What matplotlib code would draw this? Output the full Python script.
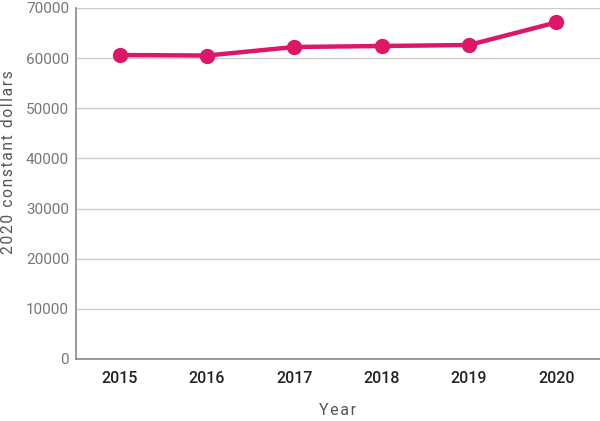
import matplotlib
matplotlib.use("Agg")
import matplotlib.pyplot as plt

years = ["2015", "2016", "2017", "2018", "2019", "2020"]
values = [60600, 60500, 62200, 62400, 62600, 67100]
yticks = [0, 10000, 20000, 30000, 40000, 50000, 60000, 70000]

plt.rcParams['font.family'] = ['Roboto', 'DejaVu Sans']

def spaced(s):
    # hair spaces between letters to mimic letter-spacing
    return '\u200a'.join(s)

fig = plt.figure(figsize=(6, 4.21), dpi=100)
ax = fig.add_axes([0.1267, 0.1473, 0.8733, 0.834])

x = list(range(len(years)))
ax.plot(x, values, color='#dc1768', linewidth=3.2, marker='o',
        markersize=10, solid_capstyle='round', zorder=3)

ax.set_xlim(-0.5, len(years) - 0.5)
ax.set_ylim(0, 70000)
ax.set_yticks(yticks)
ax.set_yticklabels([str(v) for v in yticks], fontweight='normal', fontsize=11, color='#777777')
ax.set_xticks(x)
ax.set_xticklabels(years, fontweight='medium', fontsize=11.5, color='#222222')
ax.tick_params(axis='both', length=0)
ax.tick_params(axis='y', pad=5)
ax.tick_params(axis='x', pad=9)

ax.grid(axis='y', color='#cccccc', linewidth=1)
ax.set_axisbelow(True)
for s in ['top', 'right']:
    ax.spines[s].set_visible(False)
for s in ['left', 'bottom']:
    ax.spines[s].set_color('#888888')
    ax.spines[s].set_linewidth(1.2)

ax.set_ylabel(spaced('2020 constant dollars'), fontsize=11.2, color='#555555',
              labelpad=7, y=0.56)
ax.set_xlabel(spaced('Year'), fontsize=11.5, color='#555555', labelpad=12)

fig.savefig('out.png', dpi=100)
